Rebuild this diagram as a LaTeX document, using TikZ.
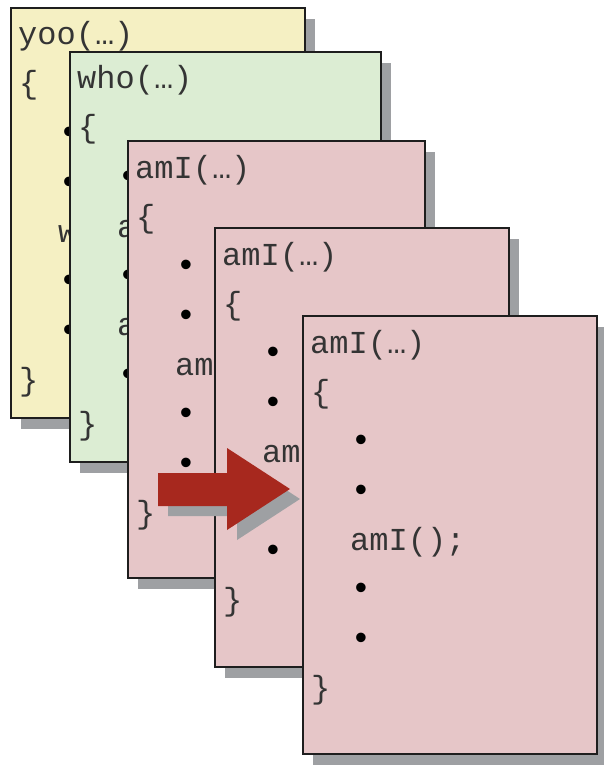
\documentclass[tikz,border=0pt]{standalone}
\usepackage{fontspec}
\newfontfamily\codefont{Liberation Mono}
\newfontfamily\markfont{Liberation Sans}
\usetikzlibrary{shadows}
\definecolor{paperyellow}{RGB}{245,240,195}
\definecolor{papergreen}{RGB}{220,237,211}
\definecolor{paperpink}{RGB}{230,198,200}
\definecolor{shadowgrey}{RGB}{158,160,163}
\definecolor{frame}{RGB}{30,30,30}
\definecolor{ink}{RGB}{52,52,52}
\definecolor{callred}{RGB}{167,40,30}
\begin{document}
\begin{tikzpicture}[x=1pt,y=-1pt,
  panel/.style={draw=frame, line width=1.6pt, anchor=north west, inner sep=0pt, outer sep=0pt,
    drop shadow={shadow xshift=10pt, shadow yshift=-11pt, fill=shadowgrey, opacity=1}},
  code/.style={anchor=base west, inner sep=0pt, text=ink, font=\codefont\fontsize{32}{32}\selectfont},
  bulletmark/.style={anchor=base, inner sep=0pt, text=black, font=\markfont\fontsize{35}{35}\selectfont}]
\useasboundingbox (0,0) rectangle (603,765);

% frame of yoo
\node[panel, fill=paperyellow, minimum width=294pt, minimum height=410pt] (p1) at (11,8) {};
\begin{scope}[shift={(p1.north west)}]
  \node[code] (p1h) at (7,37) {yoo(…)};
  \node[code] (p1o) at (8,86) {\{};
  \node[bulletmark] (p1a) at (58,135) {•};
  \node[bulletmark] (p1b) at (58,185) {•};
  \node[code] (p1c) at (47,234) {who();};
  \node[bulletmark] (p1d) at (58,283) {•};
  \node[bulletmark] (p1e) at (58,333) {•};
  \node[code] (p1z) at (8,382) {\}};
\end{scope}

% frame of who
\node[panel, fill=papergreen, minimum width=311pt, minimum height=410pt] (p2) at (70,52) {};
\begin{scope}[shift={(p2.north west)}]
  \node[code] (p2h) at (7,37) {who(…)};
  \node[code] (p2o) at (8,86) {\{};
  \node[bulletmark] (p2a) at (58,135) {•};
  \node[code] (p2b) at (47,185) {amI();};
  \node[bulletmark] (p2c) at (58,234) {•};
  \node[code] (p2d) at (47,283) {amI();};
  \node[bulletmark] (p2e) at (58,333) {•};
  \node[code] (p2z) at (8,382) {\}};
\end{scope}

% first frame of amI
\node[panel, fill=paperpink, minimum width=297pt, minimum height=437pt] (p3) at (128,141) {};
\begin{scope}[shift={(p3.north west)}]
  \node[code] (p3h) at (7,37) {amI(…)};
  \node[code] (p3o) at (8,86) {\{};
  \node[bulletmark] (p3a) at (58,135) {•};
  \node[bulletmark] (p3b) at (58,185) {•};
  \node[code] (p3c) at (47,234) {amI();};
  \node[bulletmark] (p3d) at (58,283) {•};
  \node[bulletmark] (p3e) at (58,333) {•};
  \node[code] (p3z) at (8,382) {\}};
\end{scope}

% second frame of amI
\node[panel, fill=paperpink, minimum width=294pt, minimum height=439pt] (p4) at (215,228) {};
\begin{scope}[shift={(p4.north west)}]
  \node[code] (p4h) at (7,37) {amI(…)};
  \node[code] (p4o) at (8,86) {\{};
  \node[bulletmark] (p4a) at (58,135) {•};
  \node[bulletmark] (p4b) at (58,185) {•};
  \node[code] (p4c) at (47,234) {amI();};
  \node[bulletmark] (p4d) at (58,283) {•};
  \node[bulletmark] (p4e) at (58,333) {•};
  \node[code] (p4z) at (8,382) {\}};
\end{scope}

% block arrow into the newest frame, with its shadow
\fill[shadowgrey] (168,483) -- (237,483) -- (237,458) -- (300,499) -- (237,540) -- (237,516) -- (168,516) -- cycle;
\fill[callred] (158,473) -- (227,473) -- (227,448) -- (290,489) -- (227,530) -- (227,506) -- (158,506) -- cycle;

% third frame of amI
\node[panel, fill=paperpink, minimum width=294pt, minimum height=438pt] (p5) at (303,316) {};
\begin{scope}[shift={(p5.north west)}]
  \node[code] (p5h) at (7,37) {amI(…)};
  \node[code] (p5o) at (8,86) {\{};
  \node[bulletmark] (p5a) at (58,135) {•};
  \node[bulletmark] (p5b) at (58,185) {•};
  \node[code] (p5c) at (47,234) {amI();};
  \node[bulletmark] (p5d) at (58,283) {•};
  \node[bulletmark] (p5e) at (58,333) {•};
  \node[code] (p5z) at (8,382) {\}};
\end{scope}
\end{tikzpicture}
\end{document}
